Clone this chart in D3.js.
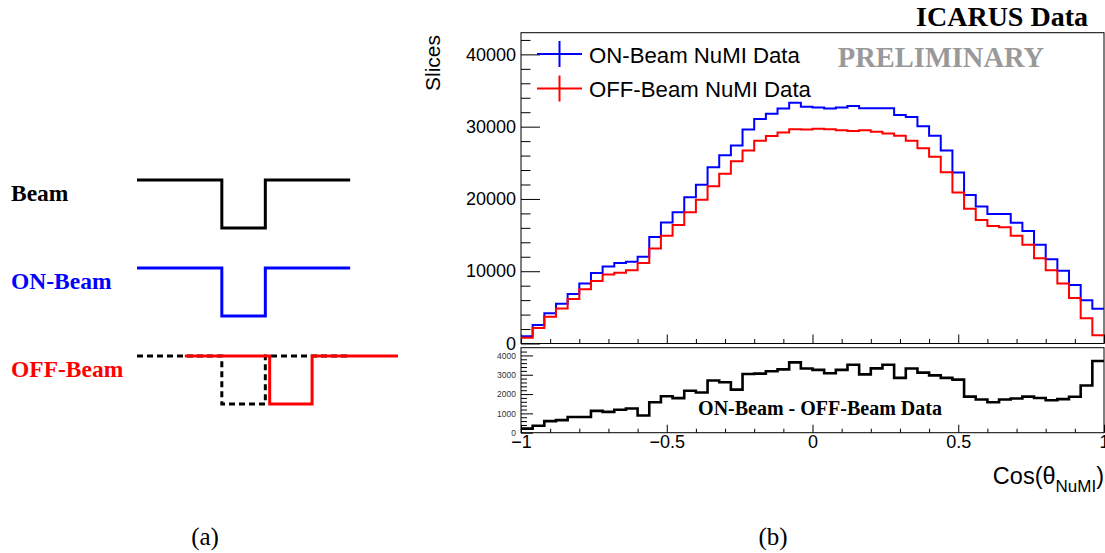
<!DOCTYPE html>
<html>
<head>
<meta charset="utf-8">
<script src="https://cdn.jsdelivr.net/npm/d3@7"></script>
<style>
  body { margin: 0; background: #fff; }
  svg { display: block; }
</style>
</head>
<body>
<svg id="fig" width="1105" height="553"></svg>
<script>
// ---- histogram data: 50 bins of Cos(theta_NuMI) from -1 to 1 ----
const binLow = -1;
const binWidth = 0.04;

const onBeam = [
  1000, 2550, 4200, 5500, 6850, 8300, 9750, 10650, 11150, 11300,
  12000, 14750, 16750, 18150, 20250, 21950, 24400, 26050, 27400, 29600,
  31050, 31800, 32500, 33300, 32750, 32650, 32500, 32650, 32850, 32550,
  32550, 32550, 31600, 31350, 30050, 28750, 26700, 23650, 20550, 18950,
  17900, 17900, 16700, 15550, 13650, 11650, 10050, 8100, 6000, 4800
];

const offBeam = [
  800, 2150, 3700, 4850, 6150, 7500, 8650, 9550, 9800, 10150,
  11150, 13150, 14900, 16400, 18150, 19900, 21750, 23500, 25200, 26700,
  28050, 28700, 29200, 29650, 29600, 29700, 29650, 29500, 29400, 29500,
  29300, 29050, 28750, 28050, 27000, 25850, 23700, 20900, 18650, 17100,
  16250, 16100, 14900, 13650, 11800, 10150, 8300, 6300, 3500, 1150
];

const onMinusOff = [
  210, 360, 600, 650, 810, 810, 1130, 1080, 1190, 1250,
  890, 1580, 1890, 1790, 2170, 2080, 2700, 2610, 2230, 3040,
  3060, 3180, 3280, 3640, 3320, 3250, 3080, 3250, 3520, 3020,
  3330, 3520, 2840, 3320, 3110, 2970, 2840, 2750, 1870, 1720,
  1580, 1720, 1770, 1870, 1800, 1680, 1740, 1860, 2440, 3710
];

const yMainTicks = [0, 10000, 20000, 30000, 40000];
const yDiffTicks = [0, 1000, 2000, 3000, 4000];
const xTickLabels = [-1, -0.5, 0, 0.5, 1];
const legendLabels = ["ON-Beam NuMI Data", "OFF-Beam NuMI Data"];
const seriesColors = ["#0000ff", "#ff0000"];

// ---- timing sketch: rows and pulse times (arbitrary time units) ----
const timingRows = ["Beam", "ON-Beam", "OFF-Beam"];
const rowColors = ["#000000", "#0000ff", "#ff0000"];
const windowStart = 0, windowEnd = 9.8;        // readout window of beam / ON-beam
const pulseStart = 3.9, pulseEnd = 5.9;        // beam spill
const offWindowStart = 2.2, offWindowEnd = 12; // shifted OFF-beam window
const offPulseStart = 6.1, offPulseEnd = 8.05; // OFF-beam gate

const sans = "'Liberation Sans', Arial, Helvetica, sans-serif";
const serif = "'Liberation Serif', 'Times New Roman', serif";

const svg = d3.select("#fig");
svg.append("rect").attr("width", 1105).attr("height", 553).attr("fill", "#fff");

// ---- scales ----
const frameL = 521, frameR = 1104;
const mainTop = 32.7, mainBottom = 343.5;
const diffTop = 347.7, diffBottom = 432.7;

const x = d3.scaleLinear().domain([-1, 1]).range([frameL, frameR]);
const yMain = d3.scaleLinear().domain([0, 43000]).range([mainBottom, mainTop]);
const yDiff = d3.scaleLinear().domain([0, 4400]).range([diffBottom, diffTop]);

function styleAxis(g, size, color) {
  g.select(".domain").remove();
  g.attr("font-family", null).attr("font-size", null);
  g.selectAll("line").attr("stroke", "#000").attr("stroke-width", 1);
  g.selectAll("text")
    .attr("font-family", sans)
    .attr("font-size", size)
    .attr("fill", color || "#000");
}

// ---- axes of the upper panel ----
svg.append("g").attr("transform", `translate(${frameL},0)`)
  .call(d3.axisLeft(yMain).tickValues(yMainTicks).tickSize(-19).tickPadding(5).tickFormat(d3.format("d")))
  .call(g => styleAxis(g, 18));
svg.append("g").attr("transform", `translate(${frameL},0)`)
  .call(d3.axisLeft(yMain).tickValues(d3.range(2000, 43000, 2000).filter(v => v % 10000 !== 0)).tickSize(-9.5).tickFormat(() => ""))
  .call(g => styleAxis(g, 10));
svg.append("g").attr("transform", `translate(0,${mainBottom})`)
  .call(d3.axisBottom(x).tickValues(xTickLabels).tickSize(-9).tickFormat(() => ""))
  .call(g => styleAxis(g, 10));
svg.append("g").attr("transform", `translate(0,${mainBottom})`)
  .call(d3.axisBottom(x).tickValues(d3.range(-9, 10).filter(v => v % 5 !== 0).map(v => v / 10)).tickSize(-4.5).tickFormat(() => ""))
  .call(g => styleAxis(g, 10));

// ---- axes of the lower (difference) panel ----
svg.append("g").attr("transform", `translate(${frameL},0)`)
  .call(d3.axisLeft(yDiff).tickValues(yDiffTicks).tickSize(-12).tickPadding(5).tickFormat(d3.format("d")))
  .call(g => styleAxis(g, 8.5, "#333"));
svg.append("g").attr("transform", `translate(${frameL},0)`)
  .call(d3.axisLeft(yDiff).tickValues(d3.range(200, 4400, 200).filter(v => v % 1000 !== 0)).tickSize(-6).tickFormat(() => ""))
  .call(g => styleAxis(g, 10));
svg.append("g").attr("transform", `translate(0,${diffBottom})`)
  .call(d3.axisBottom(x).tickValues(xTickLabels).tickSize(-8).tickPadding(3).tickFormat(d3.format("")))
  .call(g => styleAxis(g, 18));
svg.append("g").attr("transform", `translate(0,${diffBottom})`)
  .call(d3.axisBottom(x).tickValues(d3.range(-9, 10).filter(v => v % 5 !== 0).map(v => v / 10)).tickSize(-4).tickFormat(() => ""))
  .call(g => styleAxis(g, 10));

// ---- frames ----
svg.append("rect").attr("x", frameL).attr("y", mainTop)
  .attr("width", frameR - frameL).attr("height", mainBottom - mainTop)
  .attr("fill", "none").attr("stroke", "#000").attr("stroke-width", 1);
svg.append("rect").attr("x", frameL).attr("y", diffTop)
  .attr("width", frameR - frameL).attr("height", diffBottom - diffTop)
  .attr("fill", "none").attr("stroke", "#000").attr("stroke-width", 1);

// ---- step histograms ----
function stepPoints(values) {
  const pts = values.map((v, i) => [binLow + i * binWidth, v]);
  pts.push([binLow + values.length * binWidth, values[values.length - 1]]);
  return pts;
}
function stepLine(yScale) {
  return d3.line().x(d => x(d[0])).y(d => yScale(d[1])).curve(d3.curveStepAfter);
}

[onBeam, offBeam].forEach((series, i) => {
  svg.append("path")
    .attr("d", stepLine(yMain)(stepPoints(series)))
    .attr("fill", "none")
    .attr("stroke", seriesColors[i])
    .attr("stroke-width", 2);
});

svg.append("path")
  .attr("d", stepLine(yDiff)(stepPoints(onMinusOff)))
  .attr("fill", "none")
  .attr("stroke", "#000")
  .attr("stroke-width", 2.6);

// ---- legend ----
legendLabels.forEach((label, i) => {
  const cy = 54 + i * 34.5;
  const g = svg.append("g");
  g.append("line").attr("x1", 537).attr("x2", 582).attr("y1", cy).attr("y2", cy)
    .attr("stroke", seriesColors[i]).attr("stroke-width", 2);
  g.append("line").attr("x1", 559.5).attr("x2", 559.5).attr("y1", cy - 13).attr("y2", cy + 13)
    .attr("stroke", seriesColors[i]).attr("stroke-width", 2);
  g.append("text").attr("x", 589).attr("y", cy + 8.5)
    .attr("font-family", sans).attr("font-size", 22.2).attr("fill", "#000")
    .text(label);
});

// ---- titles and labels ----
svg.append("text")
  .attr("transform", "translate(440,35) rotate(-90)")
  .attr("text-anchor", "end")
  .attr("font-family", sans).attr("font-size", 21)
  .text("Slices");

const xt = svg.append("text")
  .attr("x", 1104).attr("y", 484)
  .attr("text-anchor", "end")
  .attr("font-family", sans).attr("font-size", 23.5);
xt.append("tspan").text("Cos(θ");
xt.append("tspan").attr("font-size", 17).attr("dy", 8).text("NuMI");
xt.append("tspan").attr("dy", -8).text(")");

svg.append("text")
  .attr("x", 1088).attr("y", 26)
  .attr("text-anchor", "end")
  .attr("font-family", serif).attr("font-weight", "bold").attr("font-size", 28)
  .text("ICARUS Data");

svg.append("text")
  .attr("x", 941).attr("y", 67)
  .attr("text-anchor", "middle")
  .attr("font-family", serif).attr("font-weight", "bold").attr("font-size", 28.5)
  .attr("fill", "#999")
  .text("PRELIMINARY");

svg.append("text")
  .attr("x", 820).attr("y", 415)
  .attr("text-anchor", "middle")
  .attr("font-family", serif).attr("font-weight", "bold").attr("font-size", 20)
  .text("ON-Beam - OFF-Beam Data");

// ---- timing sketch ----
const t = d3.scaleLinear().domain([0, 12]).range([137, 398]);
const rowY = d3.scalePoint().domain(timingRows).range([180, 356]);
const level = d3.scaleLinear().domain([0, 1]).range([48, 0]); // 1 = idle, 0 = gate open

function pulseShape(t0, p0, p1, t1) {
  return [[t0, 1], [p0, 1], [p0, 0], [p1, 0], [p1, 1], [t1, 1]];
}
const wave = row => d3.line().x(d => t(d[0])).y(d => rowY(row) + level(d[1]));

timingRows.forEach((row, i) => {
  svg.append("text")
    .attr("x", 11).attr("y", rowY(row) + 20.5)
    .attr("font-family", serif).attr("font-weight", "bold").attr("font-size", 23.5)
    .attr("fill", rowColors[i])
    .text(row);
});

const beamShape = pulseShape(windowStart, pulseStart, pulseEnd, windowEnd);
svg.append("path").attr("d", wave("Beam")(beamShape))
  .attr("fill", "none").attr("stroke", rowColors[0]).attr("stroke-width", 3);
svg.append("path").attr("d", wave("ON-Beam")(beamShape))
  .attr("fill", "none").attr("stroke", rowColors[1]).attr("stroke-width", 3);
svg.append("path").attr("d", wave("OFF-Beam")(beamShape))
  .attr("fill", "none").attr("stroke", "#000").attr("stroke-width", 3)
  .attr("stroke-dasharray", "6,4");
svg.append("path").attr("d", wave("OFF-Beam")(pulseShape(offWindowStart, offPulseStart, offPulseEnd, offWindowEnd)))
  .attr("fill", "none").attr("stroke", rowColors[2]).attr("stroke-width", 3);

// ---- sub-figure captions ----
[["(a)", 205], ["(b)", 773]].forEach(([cap, cx]) => {
  svg.append("text")
    .attr("x", cx).attr("y", 545)
    .attr("text-anchor", "middle")
    .attr("font-family", serif).attr("font-size", 25)
    .text(cap);
});
</script>
</body>
</html>
